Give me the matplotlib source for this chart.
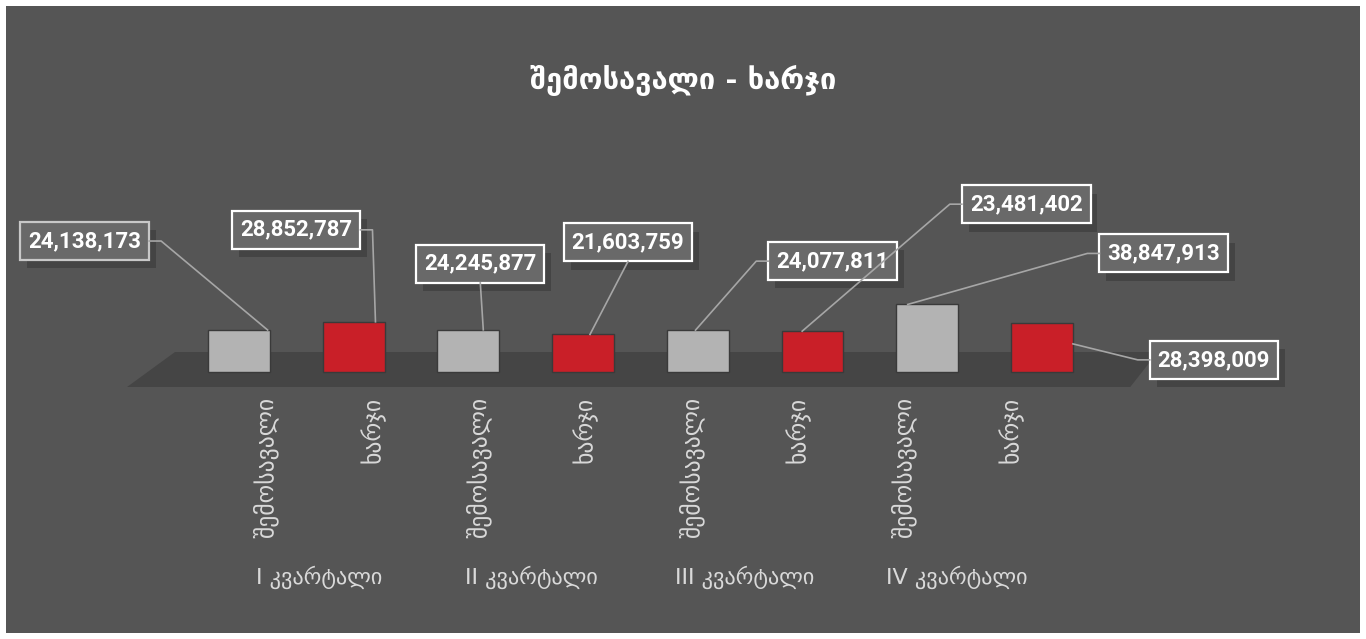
import numpy as np
import matplotlib.pyplot as plt
from matplotlib.patches import Rectangle, Polygon
from matplotlib.lines import Line2D
import matplotlib.patheffects as pe

# ---- data ----
title = "შემოსავალი - ხარჯი"
quarters = ["I კვარტალი", "II კვარტალი", "III კვარტალი", "IV კვარტალი"]
series_names = ["შემოსავალი", "ხარჯი"]
income = [24138173, 24245877, 24077811, 38847913]
expense = [28852787, 21603759, 23481402, 28398009]

bar_colors = ["#b3b3b3", "#c91f28"]

# label layout: (anchor x shift in bar units, anchor height fraction, offset px (dx, dy), side)
label_layout = [
    (0.25, 1.0, (-183, 89), "right"),
    (0.19, 1.0, (-79, 92), "right"),
    (0.13, 1.0, (-3, 66), "bottom"),
    (0.06, 1.0, (38, 92), "bottom"),
    (-0.02, 1.0, (137, 69), "left"),
    (-0.09, 1.0, (224, 127), "left"),
    (-0.17, 1.0, (256, 51), "left"),
    (0.27, 0.57, (141, -16), "left"),
]

W, H = 1366, 639
fig = plt.figure(figsize=(W / 100, H / 100), dpi=100)
fig.patch.set_facecolor("white")
fig.patches.append(Rectangle((6 / W, 6 / H), 1354 / W, 627 / H, transform=fig.transFigure,
                             fc="#555555", ec="none", zorder=-5))

# axes placed so that zero sits on the floor of the pseudo 3d plot
ax = fig.add_axes([6 / W, 0.3361, 1354 / W, 0.4357])
ax.set_xlim(-2.031, 9.773)
ax.set_ylim(-30e6, 130e6)
ax.axis("off")

# interleave series: income, expense per quarter
values = []
colors = []
cats = []
for q in range(len(quarters)):
    values += [income[q], expense[q]]
    colors += bar_colors
    cats += series_names
x = np.arange(len(values))

# floor
floor = Polygon([(-0.976, -8.6e6), (7.77, -8.6e6), (8.01, 11.5e6), (-0.558, 11.5e6)],
                closed=True, fc="#454545", ec="none", zorder=1)
ax.add_patch(floor)

ax.bar(x, values, width=0.54, color=colors, edgecolor="#3a3a3a", linewidth=1, zorder=3)

# category labels with slight perspective squeeze
c, k = 3.22, 0.927
for xi, name in zip(x, cats):
    ax.text(c + (xi - c) * k, -14.0e6, name, rotation=90, ha="center", va="top",
            color="#d9d9d9", fontsize=17, family="DejaVu Sans", zorder=4, clip_on=False)
for q, name in enumerate(quarters):
    gx = 2 * q + 0.5
    ax.text(c + (gx - c) * k, -118e6, name, ha="center", va="center",
            color="#d9d9d9", fontsize=16, family="DejaVu Sans", clip_on=False)

fig.text(0.5, 1 - 80 / H, title, ha="center", va="center", color="white",
         fontsize=21, fontweight="bold", family="DejaVu Sans")

# data labels with leader lines
texts = []
for xi, v, (sx, frac, (dx, dy), side) in zip(x, values, label_layout):
    t = ax.annotate(f"{v:,}", xy=(xi + sx, v * frac), xytext=(dx, dy),
                    textcoords="offset pixels", ha="center", va="center",
                    color="white", fontsize=16, fontweight="bold",
                    family=["Roboto", "DejaVu Sans"], zorder=6,
                    bbox=dict(boxstyle="square,pad=0.36", fc="#696969", ec="white", lw=1.6))
    t.get_bbox_patch().set_path_effects([
        pe.SimplePatchShadow(offset=(5, -6), shadow_rgbFace="black", alpha=0.2),
        pe.Normal()])
    texts.append((t, xi + sx, v * frac, side))
texts[0][0].get_bbox_patch().set_edgecolor("#c8c8c8")

fig.canvas.draw()
r = fig.canvas.get_renderer()
for t, ax_x, ax_y, side in texts:
    bb = t.get_bbox_patch().get_window_extent(r)
    a = ax.transData.transform((ax_x, ax_y))
    cy = (bb.y0 + bb.y1) / 2
    cx = (bb.x0 + bb.x1) / 2
    if side == "right":
        pts = [(bb.x1, cy), (bb.x1 + 12, cy), tuple(a)]
    elif side == "left":
        pts = [(bb.x0, cy), (bb.x0 - 12, cy), tuple(a)]
    else:
        pts = [(cx, bb.y0), tuple(a)]
    xs, ys = zip(*pts)
    fig.add_artist(Line2D(xs, ys, transform=None, color="#a6a6a6", lw=1.2, zorder=5))

fig.savefig("out.png", dpi=100, facecolor=fig.get_facecolor())
